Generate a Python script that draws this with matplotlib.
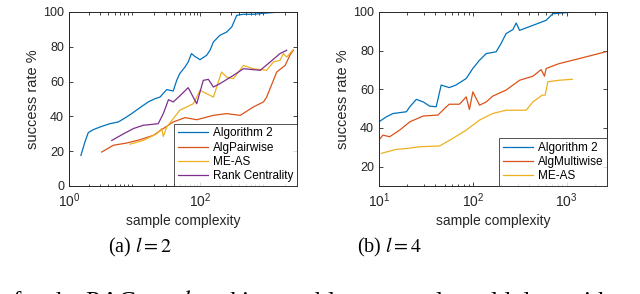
import matplotlib.pyplot as plt
from matplotlib.ticker import LogLocator, NullFormatter

# ---- data, panel (a) l = 2 ----
a_alg2_x = [1.52, 1.75, 1.97, 2.35, 2.97, 4.2, 5.66, 7.16, 9.05, 12.1, 16.2, 20.6, 24.5, 31, 39, 44,
            49, 59, 66, 74, 83, 100, 126, 142, 160, 201, 255, 305, 363, 460, 650, 1040, 1660]
a_alg2_y = [17.6, 25.3, 30.7, 32.4, 33.9, 35.8, 36.8, 39.1, 41.6, 45, 48.3, 50.2, 51.1, 55.4, 54.6, 60.7,
            64.6, 68.4, 71.3, 76.1, 74.5, 72.6, 75.1, 78, 82.8, 86.6, 88.5, 91.4, 98.1, 98.7, 98.7, 99.4, 100]

a_pair_x = [3.15, 4.75, 7.6, 12.1, 19.4, 27.5, 39, 59, 89, 160, 255, 410, 650, 930, 1040, 1480, 1990, 2350, 2650]
a_pair_y = [19.5, 23.4, 24.7, 26.6, 29.1, 33, 36.8, 39.3, 38.1, 40.6, 41.6, 40.6, 45.4, 48.3, 51.1, 65.5, 69.3, 75.1, 78]

a_meas_x = [8.5, 13.6, 21.8, 25.9, 27.5, 31, 49, 79, 100, 160, 213, 255, 323, 460, 650, 1040, 1320, 1660, 1870, 2100, 2650]
a_meas_y = [24, 26.2, 30, 33, 28.5, 33.9, 43.5, 47.3, 55, 51.1, 65.5, 62.6, 61.7, 69.3, 67.4, 66.5, 71.3, 72.2, 76.1, 74.1, 78.4]

a_rank_x = [4.5, 6.8, 9.6, 13.6, 23, 27.5, 33, 39, 47, 66, 89, 112, 134, 160, 201, 323, 460, 830, 1180, 1660, 2100]
a_rank_y = [26.2, 30, 33, 34.9, 35.8, 41.6, 49.6, 48.3, 51.1, 56.5, 47.3, 60.7, 61.3, 56.9, 58.8, 63.6, 67.4, 66.5, 71.3, 76.1, 78]

# ---- data, panel (b) l = 4 ----
b_alg2_x = [10, 12, 14.1, 19.6, 21.3, 25, 29.6, 34.7, 40.7, 46, 56, 66, 85, 100, 118, 139, 177, 200,
            226, 267, 290, 315, 437, 605, 710, 1000, 1150]
b_alg2_y = [43.2, 45.8, 47.5, 48.4, 51, 54.8, 53.5, 51.3, 51, 62.2, 60.9, 62.2, 65.6, 70.8, 75.1, 78.5, 79.4, 83.7,
            88.8, 90.9, 94.3, 90.5, 93.1, 95.7, 99.1, 99.7, 100]

b_multi_x = [10, 11, 13, 16.6, 21.3, 29.6, 42.5, 50, 56, 72, 85, 92, 100, 118, 139, 163, 226, 315, 437,
             535, 580, 605, 830, 1360, 2600]
b_multi_y = [33.8, 36.3, 35.5, 38.9, 43.2, 46.2, 46.7, 50.1, 52.3, 52.3, 56.1, 49.6, 58.7, 51.8, 53.5, 56.5, 59.6,
             64.7, 66.8, 70.2, 66.8, 70.8, 73.3, 75.9, 79.4]

b_meas_x = [10.6, 15.2, 20.4, 27, 44.3, 61, 85, 118, 163, 226, 315, 370, 437, 550, 590, 630, 830, 1150]
b_meas_y = [26.9, 28.9, 29.5, 30.3, 30.7, 34.6, 38.9, 44.1, 47.5, 49.2, 49.2, 49.2, 53.5, 57, 57, 63.9, 64.7, 65.2]

blue, orange, yellow, purple = '#0072BD', '#D95319', '#EDB120', '#7E2F8E'

plt.rcParams['font.family'] = ['Liberation Sans', 'DejaVu Sans']
plt.rcParams['mathtext.fontset'] = 'stix'

fig = plt.figure(figsize=(6.4, 2.94), dpi=100)
W, H = 640, 294


def make_axes(left, right, top, bottom):
    ax = fig.add_axes([left / W, 1 - bottom / H, (right - left) / W, (bottom - top) / H])
    ax.set_xscale('log')
    return ax


def style(ax):
    ax.tick_params(which='both', direction='in', top=True, right=True, labelsize=9, width=0.6,
                   colors='#262626')
    ax.tick_params(which='major', length=3)
    ax.tick_params(which='minor', length=1.8)
    ax.tick_params(axis='x', which='major', labelsize=10, pad=4)
    ax.xaxis.set_minor_locator(LogLocator(base=10, subs=range(2, 10), numticks=20))
    ax.xaxis.set_minor_formatter(NullFormatter())
    for s in ax.spines.values():
        s.set_linewidth(0.7)
        s.set_color('#262626')
    ax.set_xlabel('sample complexity', fontsize=10, color='#262626', labelpad=3)
    ax.set_ylabel('success rate %', fontsize=10.5, color='#262626', labelpad=2)


lw = 0.9
leg_kw = dict(loc='lower right', fontsize=8.5, fancybox=False, edgecolor='#262626', borderaxespad=0,
              handlelength=2.6, borderpad=0.3, labelspacing=0.2, handletextpad=0.4)

# (a)
ax1 = make_axes(69, 297, 12, 186)
ax1.plot(a_alg2_x, a_alg2_y, color=blue, lw=lw, label='Algorithm 2')
ax1.plot(a_pair_x, a_pair_y, color=orange, lw=lw, label='AlgPairwise')
ax1.plot(a_meas_x, a_meas_y, color=yellow, lw=lw, label='ME-AS')
ax1.plot(a_rank_x, a_rank_y, color=purple, lw=lw, label='Rank Centrality')
ax1.set_xlim(1, 10 ** 3.48)
ax1.set_ylim(0, 100)
ax1.set_xticks([1, 100])
ax1.set_yticks([0, 20, 40, 60, 80, 100])
style(ax1)
leg1 = ax1.legend(**leg_kw)
leg1.get_frame().set_linewidth(0.7)

# (b)
ax2 = make_axes(379, 607, 12, 186)
ax2.plot(b_alg2_x, b_alg2_y, color=blue, lw=lw, label='Algorithm 2')
ax2.plot(b_multi_x, b_multi_y, color=orange, lw=lw, label='AlgMultiwise')
ax2.plot(b_meas_x, b_meas_y, color=yellow, lw=lw, label='ME-AS')
ax2.set_xlim(10, 10 ** 3.43)
ax2.set_ylim(10, 100)
ax2.set_xticks([10, 100, 1000])
ax2.set_yticks([20, 40, 60, 80, 100])
style(ax2)
leg2 = ax2.legend(**leg_kw)
leg2.get_frame().set_linewidth(0.7)

# sub-captions and clipped caption line
serif = ['Liberation Serif', 'DejaVu Serif']
fig.text(140 / W, 1 - 247 / H, '(a) $l = 2$', ha='center', va='center', fontsize=14.5, family=serif)
fig.text(390 / W, 1 - 247 / H, '(b) $l = 4$', ha='center', va='center', fontsize=14.5, family=serif)
fig.text(-4 / W, 1 - 288 / H, 's for the PAC top-$l$ ranking problem on real-world data with $n = 4$, $l$',
         ha='left', va='top', fontsize=18.4, family=serif)

fig.savefig('out.png', dpi=100)
